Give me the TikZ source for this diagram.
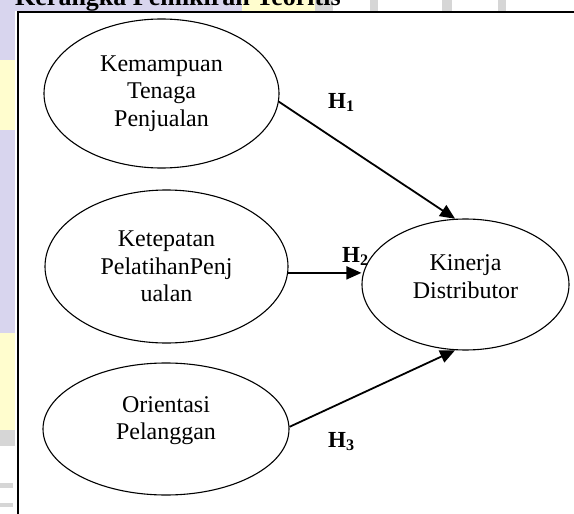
\documentclass[tikz,border=0pt]{standalone}
\usepackage{fontspec}
\setmainfont{Liberation Serif}
\usetikzlibrary{arrows.meta,shapes.geometric}

\definecolor{wmviolet}{RGB}{216,213,238}
\definecolor{wmyellow}{RGB}{255,253,206}
\definecolor{wmgray}{RGB}{214,214,214}

\begin{document}
\begin{tikzpicture}[
  x=1pt,y=-1pt,
  >={Triangle[length=15pt,width=13pt]},
  construct/.style={ellipse,draw,line width=1.1pt,inner sep=0pt,align=center,
    font=\fontsize{24}{27.5}\selectfont},
  hypothesis/.style={->,line width=1.8pt},
  hlabel/.style={anchor=base west,inner sep=0pt,font=\bfseries\fontsize{23}{26}\selectfont}
]
\useasboundingbox (0,0) rectangle (574,514);
\clip (0,0) rectangle (574,514);
% watermark round the page
\fill[wmviolet] (0,0) rectangle (242,11);
\fill[wmyellow] (242,0) rectangle (315,11);
\fill[wmgray] (315,0) rectangle (333,11);
\fill[wmgray] (370,0) rectangle (378,11);
\fill[wmgray] (442,0) rectangle (452,11);
\fill[wmgray] (498,0) rectangle (506,11);
\fill[wmviolet] (0,0) rectangle (15,60);
\fill[wmyellow] (0,60) rectangle (15,130);
\fill[wmviolet] (0,130) rectangle (15,333);
\fill[wmyellow] (0,333) rectangle (15,430);
\fill[wmgray] (0,430) rectangle (15,446);
\fill[wmgray] (0,483) rectangle (13,488);
\fill[wmgray] (0,503) rectangle (13,507);
\node[anchor=base west,inner sep=0pt,font=\bfseries\fontsize{26}{30}\selectfont]
  (judul) at (15,5.5) {Kerangka Pemikiran Teoritis};
% frame
\fill[white] (17.5,12) rectangle (600,540);
\draw[line width=2pt] (17.5,540) -- (17.5,12) -- (600,12);
\node[construct,minimum width=235pt,minimum height=149pt] (kemampuan)
  at (161.5,93.5) {Kemampuan\\Tenaga\\Penjualan};
\node[construct,minimum width=243pt,minimum height=153pt] (ketepatan)
  at (166.5,266.5) {Ketepatan\\PelatihanPenj\\ualan};
\node[construct,minimum width=246pt,minimum height=132pt,text depth=22pt]
  (orientasi) at (166,429) {Orientasi\\Pelanggan};
\node[construct,minimum width=207pt,minimum height=131pt,text depth=16pt]
  (kinerja) at (465.5,284.5) {Kinerja\\Distributor};
\draw[hypothesis] (kemampuan.-4.6) -- (kinerja.99);
\draw[hypothesis] (ketepatan.-3.5) -- (ketepatan.-3.5 -| kinerja.west);
\draw[hypothesis] (orientasi.1.4) -- (kinerja.261);
\node[hlabel] (h1) at (328,108) {H\textsubscript{1}};
\node[hlabel] (h2) at (342,262) {H\textsubscript{2}};
\node[hlabel] (h3) at (328,447) {H\textsubscript{3}};
\end{tikzpicture}
\end{document}
